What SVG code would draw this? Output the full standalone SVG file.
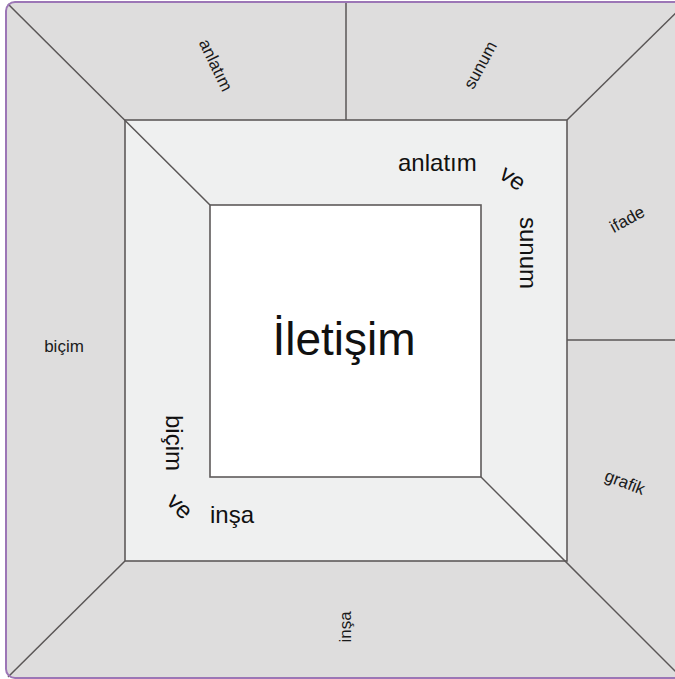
<svg xmlns="http://www.w3.org/2000/svg" width="675" height="679" viewBox="0 0 675 679">
<style>
.band{fill:#dedddd}
.mid{fill:#eff0f0;stroke:#5e5a5a;stroke-width:1.6}
.inner{fill:#ffffff;stroke:#5e5a5a;stroke-width:1.6}
.ln{stroke:#5a5656;stroke-width:1.5;fill:none}
.lab{font-family:"Liberation Sans",Arial,sans-serif;font-size:17px;fill:#1a1a1a;text-anchor:middle}
.t{font-family:"Liberation Sans",Arial,sans-serif;font-size:24px;fill:#111}
.big{font-family:"Liberation Sans",Arial,sans-serif;font-size:46px;fill:#111;text-anchor:middle}
</style>
<rect width="675" height="679" fill="#ffffff"/>
<g id="outer-frame">
<rect class="band" x="6" y="2" width="700" height="676" rx="9"/>
</g>
<g id="middle-frame">
<rect class="mid" x="125" y="120" width="442" height="441"/>
</g>
<g id="center">
<rect class="inner" x="210" y="205" width="271" height="272"/>
</g>
<g id="lines">
<line class="ln" x1="8" y1="4" x2="210" y2="205"/>
<line class="ln" x1="567" y1="120" x2="686" y2="3"/>
<line class="ln" x1="481" y1="477" x2="682" y2="678"/>
<line class="ln" x1="125" y1="561" x2="8" y2="677"/>
<line class="ln" x1="346" y1="2" x2="346" y2="120"/>
<line class="ln" x1="567" y1="340" x2="675" y2="340"/>
</g>
<g id="frame-border">
<rect x="6" y="2" width="700" height="676" rx="9" fill="none" stroke="#9c76b6" stroke-width="2"/>
</g>
<g id="outer-labels">
<text class="lab" transform="translate(216,65) rotate(64)" dy="6">anlatım</text>
<text class="lab" transform="translate(480,65) rotate(-62)" dy="6">sunum</text>
<text class="lab" transform="translate(627,219) rotate(-29)" dy="6">ifade</text>
<text class="lab" transform="translate(625,482) rotate(21)" dy="6">grafik</text>
<text class="lab" x="64" y="352">biçim</text>
<text class="lab" transform="translate(345,627) rotate(-90)" dy="6">inşa</text>
</g>
<g id="inner-labels">
<text class="big" x="344" y="355">İletişim</text>
<text class="t" x="398" y="171">anlatım</text>
<text class="t" transform="translate(513,178) rotate(35)" dy="8" text-anchor="middle">ve</text>
<text class="t" transform="translate(520,217) rotate(90)">sunum</text>
<text class="t" transform="translate(166,415) rotate(90)">biçim</text>
<text class="t" transform="translate(180,506) rotate(45)" dy="8" text-anchor="middle">ve</text>
<text class="t" x="210" y="523">inşa</text>
</g>
</svg>
